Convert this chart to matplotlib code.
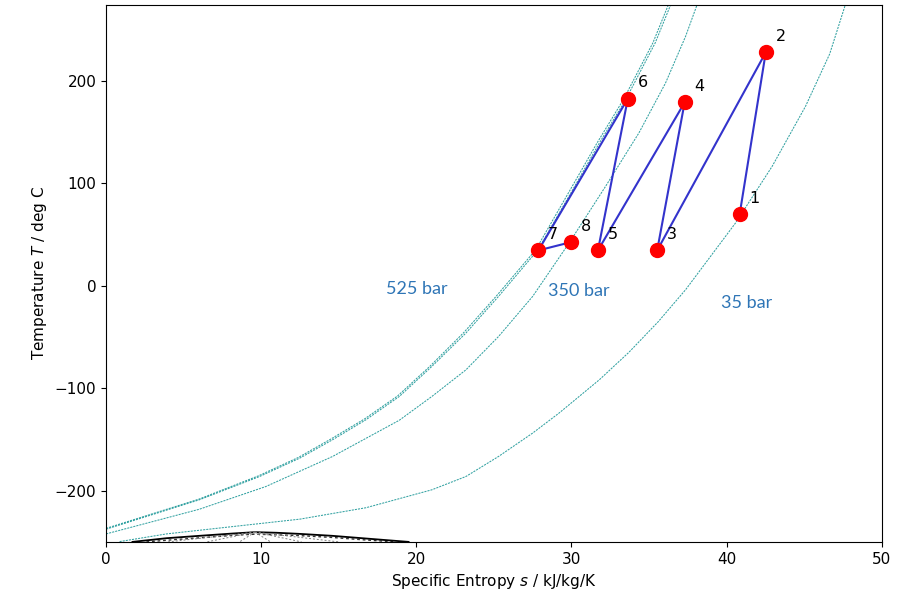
import matplotlib
matplotlib.use("Agg")
import matplotlib.pyplot as plt

# isobars (s in kJ/kg/K, T in deg C)
s_525 = [0.0, 6.0, 9.9, 12.5, 14.6, 16.75, 18.9, 21.0, 23.2, 25.3, 27.85, 30.06, 31.8, 33.5, 35.4, 36.4]
T_525 = [-237.4, -208.8, -186, -168, -150.2, -130.7, -108, -78.7, -46.1, -10.4, 35.1, 93, 139.2, 181.5, 236.8, 274]
s_700 = [0.0, 6.0, 9.85, 12.4, 14.5, 16.65, 18.8, 20.9, 23.05, 25.15, 27.7, 29.9, 31.65, 33.35, 35.25, 36.25]
T_700 = [-236.6, -208, -185.2, -167.4, -149.4, -130, -107.4, -78.2, -45.8, -10.2, 35.1, 93, 139.2, 181.5, 236.8, 274]
s_350 = [0.0, 6.0, 10.3, 14.6, 18.9, 21.0, 23.2, 25.3, 27.5, 29.85, 32.2, 34.35, 36.07, 37.36, 38.1]
T_350 = [-242, -218, -195.8, -166.5, -131.2, -108, -82, -49.5, -10.4, 41.7, 96.9, 149, 197.8, 243.2, 274]
s_35 = [0.87, 3.9, 8.2, 12.5, 16.75, 21.0, 23.2, 25.3, 27.5, 29.2, 31.8, 33.7, 35.6, 37.36, 40.58, 42.94, 45.09, 46.65, 47.66]
T_35 = [-249.5, -242, -234.8, -227.6, -216.5, -199, -186, -166.5, -143.7, -124.2, -91.7, -65, -35, -3.9, 61.2, 116.4, 174.9, 226, 274]

# saturation dome and lines inside it
dome_s = [1.7, 3.9, 6.0, 8.2, 9.6, 11.0, 12.5, 14.6, 16.75, 19.5]
dome_T = [-249.8, -246.2, -243.9, -241.6, -240.3, -240.9, -242.0, -243.9, -246.5, -249.8]
inner_s = [2.6, 4.5, 6.5, 8.4, 9.6, 10.8, 12.5, 14.6, 16.6, 18.6]
inner_T = [-249.8, -247.5, -245.3, -243.2, -242.3, -242.8, -243.7, -245.5, -247.8, -249.8]
quality_s = [4.0, 6.5, 8.6, 10.6, 12.6, 15.0]

# cycle states
states = ["1", "2", "3", "4", "5", "6", "7", "8"]
s_pts = [40.85, 42.53, 35.53, 37.3, 31.71, 33.64, 27.87, 29.99]
T_pts = [70, 227.6, 34.5, 178.8, 34.5, 182.6, 34.5, 42.6]

fig = plt.figure(figsize=(9.07, 6.03), dpi=100)
ax = fig.add_axes([0.117, 0.101, 0.855, 0.891])

iso_style = dict(color="darkcyan", lw=0.75, ls=(0, (2, 1)), alpha=0.8)
ax.plot(s_700, T_700, **iso_style)
ax.plot(s_525, T_525, **iso_style)
ax.plot(s_350, T_350, **iso_style)
ax.plot(s_35, T_35, **iso_style)

ax.plot(dome_s, dome_T, color="black", lw=1.3)
ax.plot(inner_s, inner_T, color="black", lw=1.0, ls=(0, (2, 2)), alpha=0.8)
for qs in quality_s:
    ax.plot([9.6, qs], [-240.3, -249.8], color="gray", lw=0.7, ls=(0, (2, 2)))

ax.plot(s_pts, T_pts, color="#3333cc", lw=1.5, zorder=3)
ax.plot(s_pts, T_pts, "o", color="red", ms=10, zorder=4)
for lab, s, t in zip(states, s_pts, T_pts):
    ax.annotate(lab, (s, t), xytext=(7, 8), textcoords="offset points", fontsize=11.5)

lab_font = dict(color="#2e75b6", fontsize=13, family="Lato", ha="center", va="center")
ax.text(20.0, -3, "525 bar", **lab_font)
ax.text(30.5, -5, "350 bar", **lab_font)
ax.text(41.3, -17, "35 bar", **lab_font)

ax.set_xlim(0, 50)
ax.set_ylim(-250, 274)
ax.set_yticks([-200, -100, 0, 100, 200])
ax.set_xlabel("Specific Entropy $s$ / kJ/kg/K", fontsize=11)
ax.set_ylabel("Temperature $T$ / deg C", fontsize=11)
ax.tick_params(labelsize=11)

fig.savefig("out.png", dpi=100)
